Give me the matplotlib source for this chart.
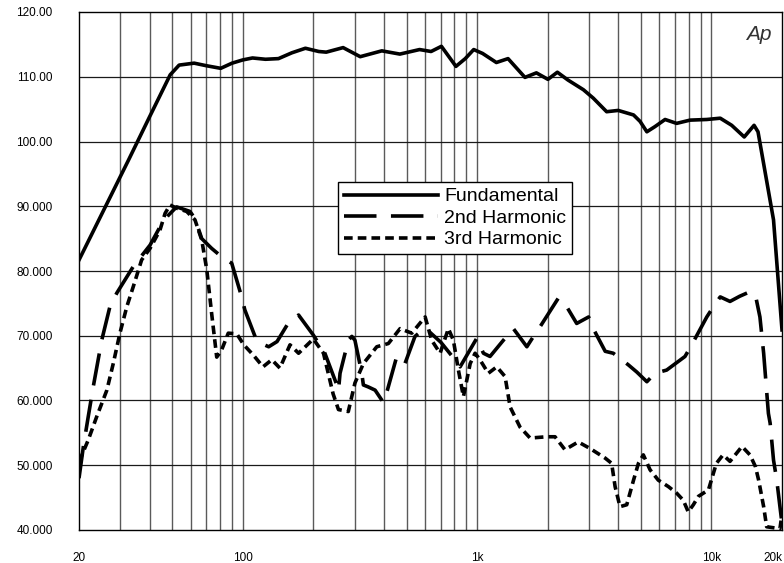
import numpy as np
import matplotlib
matplotlib.use("Agg")
import matplotlib.pyplot as plt
from matplotlib.ticker import FixedLocator, NullFormatter

plt.rcParams['font.family'] = ['Liberation Sans', 'DejaVu Sans']

# fundamental (solid)
fund_f = [20, 32.5, 40, 49, 53.5, 62, 70, 80.5, 90, 100, 110, 125, 142, 162, 185, 211,
          227, 268, 317, 392, 468, 568, 636, 704, 812, 890, 967, 1055, 1208, 1355,
          1600, 1790, 2005, 2200, 2440, 2840, 3130, 3570, 4000, 4650, 4960, 5300,
          5740, 6340, 7100, 8100, 9550, 10900, 12200, 13800, 15200, 15800, 16600,
          18400, 20000]
fund_db = [81.7, 97.1, 103.8, 110.3, 111.8, 112.1, 111.7, 111.3, 112.1, 112.6, 112.9,
           112.7, 112.8, 113.7, 114.4, 113.9, 113.8, 114.5, 113.1, 114.0, 113.5, 114.2,
           113.9, 114.7, 111.6, 112.8, 114.2, 113.6, 112.2, 112.8, 109.9, 110.6, 109.6,
           110.7, 109.5, 108.0, 106.7, 104.6, 104.8, 104.1, 103.1, 101.5, 102.3, 103.4,
           102.8, 103.3, 103.4, 103.6, 102.5, 100.7, 102.5, 101.5, 97.1, 87.9, 70.9]

# 2nd harmonic (long dash)
h2_f = [20, 20.9, 21.9, 23.0, 25.0, 27.1, 29.0, 34.1, 40.2, 44.3, 48.1, 52.2, 59.5,
        62.5, 66.8, 73.6, 81.2, 89.7, 98.9, 102, 115, 129, 140, 156, 173, 200, 224,
        252, 256, 260, 282, 292, 301, 322, 327, 343, 367, 398, 414, 454, 492, 543,
        600, 700, 804, 846, 996, 1064, 1135, 1294, 1428, 1630, 1740, 1857, 2220,
        2410, 2660, 2990, 3130, 3520, 3810, 4140, 4420, 4800, 5300, 5740, 6440,
        7710, 8240, 9550, 10200, 10900, 12000, 13200, 14600, 15400, 16100, 16700,
        17500, 17800, 18400, 19000, 19600, 20000]
h2_db = [48.0, 53.0, 57.5, 62.1, 69.3, 74.5, 76.6, 80.7, 84.0, 86.8, 88.6, 89.9, 89.2,
         88.1, 85.0, 83.5, 82.2, 81.2, 76.0, 74.0, 69.1, 68.3, 69.1, 71.9, 73.2, 70.1,
         67.3, 62.4, 61.5, 64.2, 69.3, 69.9, 69.3, 64.2, 62.4, 62.1, 61.6, 59.7, 61.6,
         66.8, 65.7, 69.9, 71.2, 69.0, 66.3, 65.2, 69.6, 67.3, 66.8, 69.3, 71.1, 68.3,
         69.9, 71.4, 75.8, 74.5, 71.9, 72.9, 71.1, 67.6, 67.3, 66.3, 65.5, 64.4, 62.9,
         64.2, 64.7, 66.8, 68.6, 72.9, 74.5, 76.0, 75.3, 76.1, 76.8, 76.3, 72.9, 67.3,
         58.0, 56.5, 50.8, 47.7, 43.6, 41.0]

# 3rd harmonic (short dash)
h3_f = [20, 21.9, 23.8, 26.3, 28.0, 29.9, 32.0, 34.1, 37.0, 40.2, 44.3, 46.6, 48.9,
        52.2, 57.6, 62.5, 66.8, 70.2, 73.6, 77.4, 81.2, 86.7, 94.2, 101, 111, 122,
        133, 144, 159, 173, 200, 221, 243, 256, 282, 301, 327, 373, 418, 469, 526,
        600, 640, 695, 754, 792, 832, 874, 934, 980, 1028, 1116, 1213, 1316, 1383,
        1524, 1683, 1982, 2150, 2370, 2700, 3030, 3520, 3750, 3880, 4070, 4350,
        4650, 4880, 5120, 5470, 5930, 6550, 7100, 7580, 7960, 8370, 8800, 9710,
        10200, 10500, 11200, 12000, 13500, 14600, 15400, 15900, 16700, 17200,
        19600, 20000]
h3_db = [50.5, 53.9, 57.5, 61.6, 65.7, 70.4, 74.5, 77.6, 81.7, 83.5, 86.3, 88.9, 90.2,
         89.7, 89.2, 87.9, 84.8, 80.2, 73.5, 66.7, 67.8, 70.4, 70.3, 68.6, 67.0, 65.2,
         66.3, 65.0, 68.6, 67.3, 69.5, 67.3, 61.0, 58.6, 58.3, 62.7, 65.7, 68.3, 68.8,
         71.1, 70.4, 72.9, 69.3, 67.3, 71.1, 69.3, 64.7, 60.6, 65.7, 67.3, 66.3, 64.2,
         65.2, 63.7, 59.0, 55.9, 54.2, 54.4, 54.4, 52.4, 53.6, 52.6, 51.1, 50.3, 46.7,
         43.6, 43.9, 47.7, 50.3, 51.6, 49.3, 47.7, 46.7, 45.7, 44.6, 42.8, 43.9, 45.2,
         46.2, 48.8, 50.3, 51.6, 50.6, 52.9, 51.6, 49.8, 47.7, 43.6, 40.5, 40.2, 42.5]

ytick_vals = [40, 50, 60, 70, 80, 90, 100, 110, 120]
ytick_labels = ['40.000', '50.000', '60.000', '70.000', '80.000', '90.000',
                '100.00', '110.00', '120.00']
xtick_vals = [20, 100, 1000, 10000, 20000]
xtick_labels = ['20', '100', '1k', '10k', '20k']

W, H = 784, 563
fig = plt.figure(figsize=(W / 100, H / 100), dpi=100)
ax = fig.add_axes([79 / W, 1 - 530 / H, (782 - 79) / W, (530 - 12) / H])

ax.set_xscale('log')
ax.set_xlim(20, 20000)
ax.set_ylim(40, 120)

# grid
grid_f = [m * 10 ** e for e in range(1, 5) for m in range(1, 10)]
grid_f = [g for g in grid_f if 20 < g < 20000]
for g in grid_f:
    ax.axvline(g, color='#5a5a5a', lw=1.0, zorder=1)
for v in ytick_vals[1:-1]:
    ax.axhline(v, color='#1a1a1a', lw=0.9, zorder=1)

lw = 2.6
ax.plot(fund_f, fund_db, color='black', lw=lw, solid_joinstyle='round',
        label='Fundamental', zorder=3)
ax.plot(h2_f, h2_db, color='black', lw=lw, dashes=(9, 4), dash_capstyle='butt',
        label='2nd Harmonic', zorder=3)
ax.plot(h3_f, h3_db, color='black', lw=lw, dashes=(2.4, 1.4), dash_capstyle='butt',
        label='3rd Harmonic', zorder=3)

ax.xaxis.set_major_locator(FixedLocator(xtick_vals))
ax.set_xticklabels(xtick_labels)
ax.xaxis.set_minor_locator(FixedLocator([]))
ax.xaxis.set_minor_formatter(NullFormatter())
ax.set_yticks(ytick_vals)
ax.set_yticklabels(ytick_labels)
ax.tick_params(axis='both', length=0, labelsize=8.5)
ax.tick_params(axis='y', pad=19)
ax.tick_params(axis='x', pad=16)
# last label sits at the right edge of the figure
ax.get_xticklabels()[-1].set_horizontalalignment('right')

for s in ax.spines.values():
    s.set_color('black')
    s.set_linewidth(1.0)

ax.text(0.985, 0.975, 'Ap', transform=ax.transAxes, ha='right', va='top',
        fontsize=15, style='italic', fontweight='light', color='#333333')

leg = ax.legend(loc='upper left', bbox_to_anchor=((338 - 79) / 703, (530 - 182) / 518),
                borderaxespad=0, fancybox=False, framealpha=1, edgecolor='black',
                fontsize=14, handlelength=4.85, handletextpad=0.3,
                labelspacing=0.2, borderpad=0.3)
leg.get_frame().set_linewidth(1.0)
leg.set_zorder(5)

fig.savefig('out.png', dpi=100)
